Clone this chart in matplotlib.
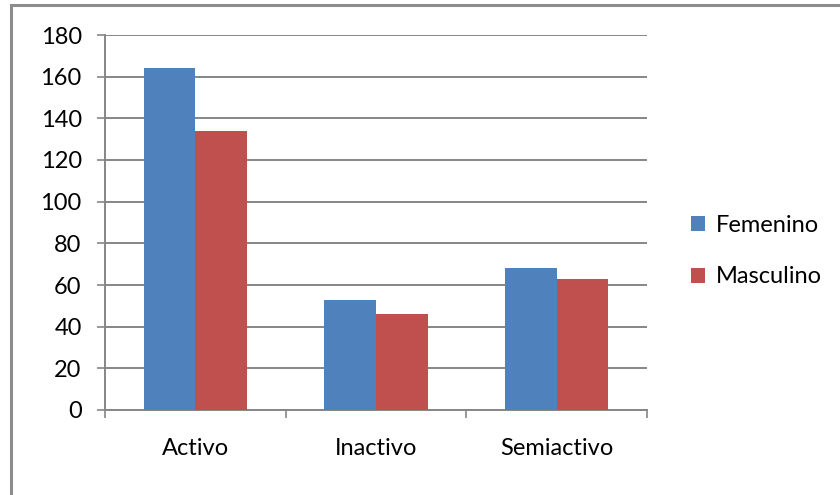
import matplotlib
matplotlib.use("Agg")
import matplotlib.pyplot as plt
import numpy as np
from matplotlib.patches import Rectangle

categories = ["Activo", "Inactivo", "Semiactivo"]
femenino = [164, 53, 68]
masculino = [134, 46, 63]
series_names = ["Femenino", "Masculino"]
yticks = [0, 20, 40, 60, 80, 100, 120, 140, 160, 180]

blue = "#4F81BD"
red = "#C0504D"
grid_gray = "#868686"

plt.rcParams["font.family"] = ["Lato", "DejaVu Sans"]
FS = 17

fig = plt.figure(figsize=(8.4, 4.95), dpi=100)
ax = fig.add_axes([105 / 840, 1 - 410 / 495, (647 - 105) / 840, (410 - 35) / 495])

x = np.arange(len(categories))
w = 1 / 3.5
ax.bar(x - w / 2, femenino, width=w, color=blue, label=series_names[0], zorder=3)
ax.bar(x + w / 2, masculino, width=w, color=red, label=series_names[1], zorder=3)

ax.set_xlim(-0.5, len(categories) - 0.5)
ax.set_ylim(0, 180)
ax.set_yticks(yticks)
ax.set_yticklabels([str(v) for v in yticks])
ax.set_xticks(x)
ax.set_xticklabels(categories)
ax.set_xticks(np.arange(len(categories) + 1) - 0.5, minor=True)

ax.yaxis.grid(True, color=grid_gray, linewidth=1.4, zorder=0)
ax.set_axisbelow(True)
for side in ("top", "right"):
    ax.spines[side].set_visible(False)
for side in ("left", "bottom"):
    ax.spines[side].set_color(grid_gray)
    ax.spines[side].set_linewidth(1.4)

ax.tick_params(axis="y", length=5.8, width=1.2, color=grid_gray, pad=11,
               labelsize=FS, labelcolor="black")
ax.tick_params(axis="x", which="major", length=0, pad=20, labelsize=FS,
               labelcolor="black")
ax.tick_params(axis="x", which="minor", length=5.8, width=1.2, color=grid_gray)

leg = fig.legend(loc="center left", bbox_to_anchor=(691 / 840, 1 - 251 / 495),
                 frameon=False, fontsize=FS, handlelength=0.6, handleheight=0.6,
                 handletextpad=0.45, labelspacing=1.3, borderpad=0, borderaxespad=0)

# outer chart border
fig.patches.append(Rectangle((11 / 840, -0.1), 1.1, 1 - 5 / 495 + 0.1,
                             transform=fig.transFigure, fill=False,
                             edgecolor="#8C8C8C", linewidth=2.2))

fig.savefig("out.png", dpi=100)
